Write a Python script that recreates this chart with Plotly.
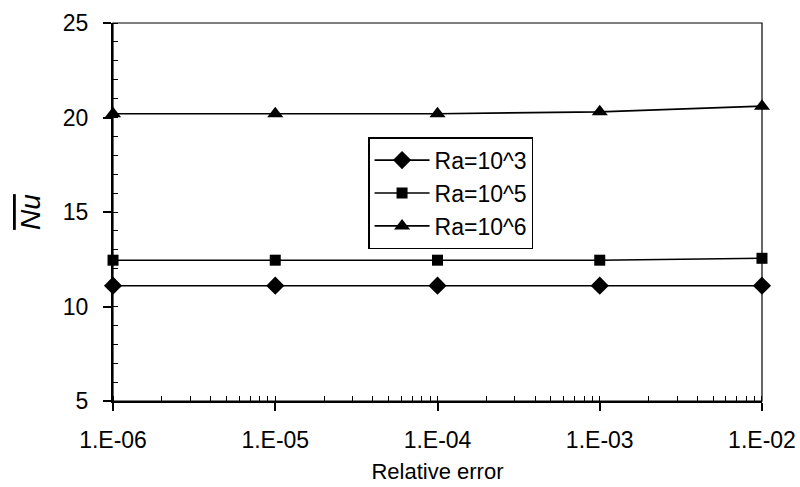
import plotly.graph_objects as go

x_err = [1e-6, 1e-5, 1e-4, 1e-3, 1e-2]
nu_ra3 = [11.1, 11.1, 11.1, 11.1, 11.1]
nu_ra5 = [12.45, 12.45, 12.45, 12.45, 12.55]
nu_ra6 = [20.2, 20.2, 20.2, 20.3, 20.6]
series_names = ["Ra=10^3", "Ra=10^5", "Ra=10^6"]
x_tickvals = [1e-6, 1e-5, 1e-4, 1e-3, 1e-2]
x_ticktext = ["1.E-06", "1.E-05", "1.E-04", "1.E-03", "1.E-02"]

FONT = "Liberation Sans, Arial, sans-serif"

fig = go.Figure()
for ys, name, sym, size in [
    (nu_ra3, series_names[0], "diamond", 14),
    (nu_ra5, series_names[1], "square", 11),
    (nu_ra6, series_names[2], "triangle-up", 14),
]:
    fig.add_trace(go.Scatter(
        x=x_err, y=ys, name=name, mode="lines+markers",
        line=dict(color="black", width=1.6),
        marker=dict(symbol=sym, size=size, color="black"),
        cliponaxis=False,
    ))

fig.update_layout(
    width=800, height=487,
    margin=dict(l=113, r=38, t=23, b=86),
    paper_bgcolor="white", plot_bgcolor="white",
    font=dict(family=FONT, size=23, color="black"),
    showlegend=True,
    legend=dict(
        x=0.393, y=0.698, xanchor="left", yanchor="top",
        bordercolor="black", borderwidth=1.5, bgcolor="white",
        font=dict(family=FONT, size=23, color="black"),
        tracegroupgap=0, itemsizing="trace", itemwidth=55,
    ),
    xaxis=dict(
        type="log", range=[-6.0001, -1.9999], automargin=False,
        tickmode="array", tickvals=x_tickvals, ticktext=x_ticktext,
        ticks="outside", ticklen=8, tickwidth=1.5, tickcolor="black",
        showline=True, linecolor="black", linewidth=2,
        showgrid=False, zeroline=False,
        ticklabelstandoff=9,
        minor=dict(dtick="D1", ticks="inside", ticklen=5, tickwidth=1.2,
                   tickcolor="black", showgrid=False),
        title=dict(text="Relative error", standoff=12,
                   font=dict(family=FONT, size=22)),
        tickfont=dict(family=FONT, size=23),
    ),
    yaxis=dict(
        range=[5, 25], tickmode="linear", tick0=5, dtick=5, automargin=False,
        ticks="outside", ticklen=8, tickwidth=1.5, tickcolor="black",
        showline=True, linecolor="black", linewidth=2,
        showgrid=False, zeroline=False,
        ticklabelstandoff=10,
        minor=dict(dtick=1, ticks="inside", ticklen=5, tickwidth=1.2,
                   tickcolor="black", showgrid=False),
        title=dict(text="<i><span style='text-decoration:overline'>Nu</span></i>",
                   standoff=14, font=dict(family=FONT, size=28)),
        tickfont=dict(family=FONT, size=23),
    ),
    shapes=[dict(type="rect", xref="paper", yref="paper", x0=0, x1=1, y0=0, y1=1,
                 line=dict(color="black", width=1.2), layer="below")],
)

fig.write_html("out.html")
